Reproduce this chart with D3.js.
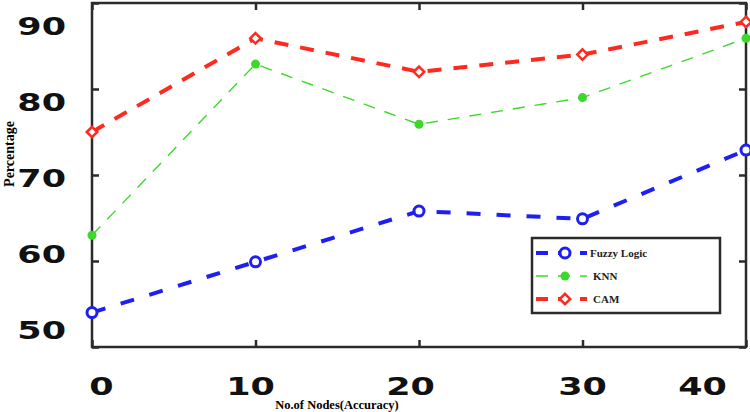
<!DOCTYPE html>
<html>
<head>
<meta charset="utf-8">
<script src="https://cdn.jsdelivr.net/npm/d3@7"></script>
<style>
  body { margin: 0; background: #fff; }
  svg { display: block; }
</style>
</head>
<body>
<svg id="chart"></svg>
<script>
// data
const nodes = [0, 10, 20, 30, 40];
const fuzzyLogic = [54.0, 59.9, 65.8, 64.9, 72.9];
const knn = [63.0, 82.9, 75.9, 79.0, 85.9];
const cam = [75.0, 85.9, 82.0, 84.0, 87.8];
const yTicks = [50, 60, 70, 80, 90];
const xTicks = [0, 10, 20, 30, 40];

const width = 750;
const height = 412;
const plot = { left: 92, top: 3, right: 746, bottom: 347 };

const svg = d3.select("#chart").attr("width", width).attr("height", height);

const x = d3.scaleLinear().domain([0, 40]).range([plot.left, plot.right]);
const y = d3.scaleLinear().domain([50, 90]).range([plot.bottom, plot.top]);

// the tick labels in the figure sit a bit off the ticks, so they get their own scales
const xLab = d3.scaleLinear().domain(xTicks).range([101, 250, 410, 582, 702]);
const yLab = d3.scaleLinear().domain([50, 90]).range([329, 25]);

const series = [
  { name: "Fuzzy Logic", values: fuzzyLogic, color: "#1f1ff2", width: 4, dash: "14,16", marker: "circle" },
  { name: "KNN", values: knn, color: "#3cd92a", width: 1.4, dash: "12,10", marker: "dot" },
  { name: "CAM", values: cam, color: "#ff2a1f", width: 4, dash: "14,12", marker: "diamond" },
];

// inward ticks on all four sides
const tickCol = "#2b2b2b";
function styleTicks(g) {
  g.select(".domain").remove();
  g.selectAll("line").attr("stroke", tickCol).attr("stroke-width", 2.5);
}
svg.append("g").attr("transform", `translate(0,${plot.bottom})`)
  .call(d3.axisBottom(x).tickValues(xTicks).tickSize(-7).tickFormat("")).call(styleTicks);
svg.append("g").attr("transform", `translate(0,${plot.top})`)
  .call(d3.axisTop(x).tickValues(xTicks).tickSize(-7).tickFormat("")).call(styleTicks);
svg.append("g").attr("transform", `translate(${plot.left},0)`)
  .call(d3.axisLeft(y).tickValues(yTicks).tickSize(-7).tickFormat("")).call(styleTicks);
svg.append("g").attr("transform", `translate(${plot.right},0)`)
  .call(d3.axisRight(y).tickValues(yTicks).tickSize(-7).tickFormat("")).call(styleTicks);

// frame
svg.append("rect")
  .attr("x", plot.left).attr("y", plot.top)
  .attr("width", plot.right - plot.left).attr("height", plot.bottom - plot.top)
  .attr("fill", "none").attr("stroke", tickCol).attr("stroke-width", 2.5);

// big tick labels
function styleLabels(g) {
  g.select(".domain").remove();
  g.selectAll("line").remove();
  g.selectAll("text")
    .attr("font-family", "DejaVu Sans, Verdana, sans-serif")
    .attr("font-weight", "bold")
    .attr("font-size", 25)
    .attr("fill", "#111")
    .attr("transform", "scale(1.4,1)");
}
svg.append("g").attr("transform", "translate(66,0)")
  .call(d3.axisLeft(yLab).tickValues(yTicks).tickSize(0).tickPadding(0).tickFormat(d3.format("d")))
  .call(styleLabels)
  .selectAll("text").attr("dy", "0.36em");
svg.append("g").attr("transform", "translate(0,377)")
  .call(d3.axisBottom(xLab).tickValues(xTicks).tickSize(0).tickPadding(0).tickFormat(d3.format("d")))
  .call(styleLabels)
  .selectAll("text").attr("dy", "0.73em");

// axis titles
svg.append("text")
  .attr("transform", "translate(14,154) rotate(-90)")
  .attr("text-anchor", "middle")
  .attr("font-family", "Liberation Serif, Times New Roman, serif")
  .attr("font-weight", "bold")
  .attr("font-size", 14)
  .text("Percentage");
svg.append("text")
  .attr("x", 337).attr("y", 409)
  .attr("text-anchor", "middle")
  .attr("font-family", "Liberation Serif, Times New Roman, serif")
  .attr("font-weight", "bold")
  .attr("font-size", 12.5)
  .text("No.of Nodes(Accuracy)");

const line = d3.line().x((d, i) => x(nodes[i])).y(d => y(d));

function drawMarker(g, s, cx, cy) {
  if (s.marker === "circle") {
    g.append("circle").attr("cx", cx).attr("cy", cy).attr("r", 5)
      .attr("fill", "#fff").attr("stroke", s.color).attr("stroke-width", 3);
  } else if (s.marker === "dot") {
    g.append("circle").attr("cx", cx).attr("cy", cy).attr("r", 4.5).attr("fill", s.color);
  } else {
    g.append("path")
      .attr("d", d3.symbol(d3.symbolDiamond2, 70)())
      .attr("transform", `translate(${cx},${cy})`)
      .attr("fill", "#fff").attr("stroke", s.color).attr("stroke-width", 2.5);
  }
}

series.forEach(s => {
  const g = svg.append("g");
  g.append("path")
    .datum(s.values)
    .attr("d", line)
    .attr("fill", "none")
    .attr("stroke", s.color)
    .attr("stroke-width", s.width)
    .attr("stroke-dasharray", s.dash);
  s.values.forEach((v, i) => drawMarker(g, s, x(nodes[i]), y(v)));
});

// legend
const legend = svg.append("g").attr("transform", "translate(532,238)");
legend.append("rect")
  .attr("width", 188).attr("height", 75)
  .attr("fill", "#fff").attr("stroke", tickCol).attr("stroke-width", 2.5);
series.forEach((s, i) => {
  const ly = 15 + i * 23;
  const lg = legend.append("g");
  lg.append("line")
    .attr("x1", 4).attr("x2", 55).attr("y1", ly).attr("y2", ly)
    .attr("stroke", s.color).attr("stroke-width", s.width)
    .attr("stroke-dasharray", "12,10");
  drawMarker(lg, s, 33, ly);
  lg.append("text")
    .attr("x", i === 0 ? 58 : 61).attr("y", ly).attr("dy", "0.35em")
    .attr("font-family", "Liberation Serif, Times New Roman, serif")
    .attr("font-weight", "bold")
    .attr("font-size", 11)
    .attr("fill", "#222")
    .text(s.name);
});
</script>
</body>
</html>
